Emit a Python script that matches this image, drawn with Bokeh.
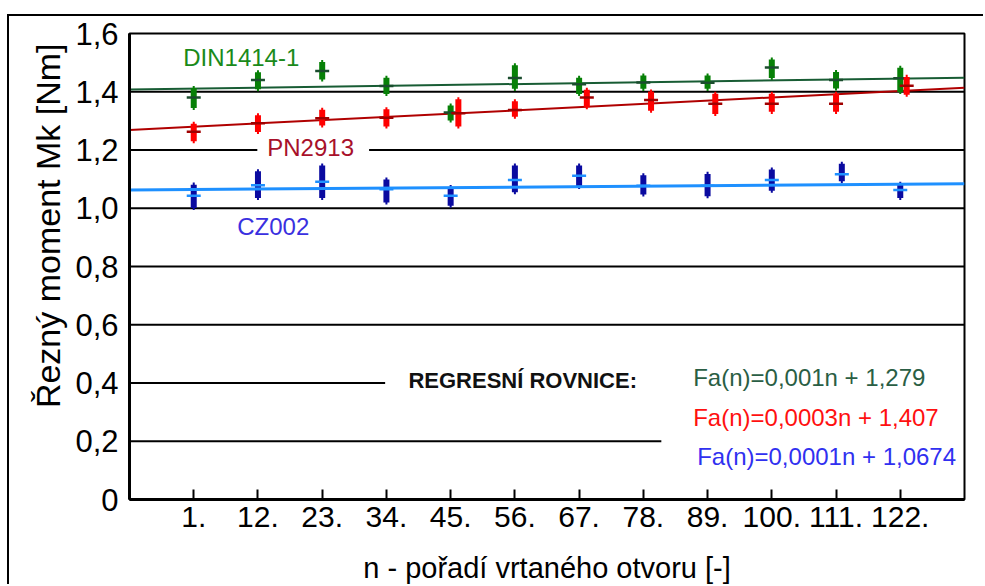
from bokeh.plotting import figure
from bokeh.models import Range1d, FixedTicker, CustomJSTickFormatter, Label, Title
from bokeh.embed import file_html
from bokeh.resources import INLINE

# ---- data ----
positions = [1, 2, 3, 4, 5, 6, 7, 8, 9, 10, 11, 12]
x_labels = ["1.", "12.", "23.", "34.", "45.", "56.", "67.", "78.", "89.", "100.", "111.", "122."]
y_ticks = [0, 0.2, 0.4, 0.6, 0.8, 1.0, 1.2, 1.4, 1.6]

din_hi = [1.420, 1.474, 1.509, 1.455, 1.360, 1.498, 1.455, 1.463, 1.463, 1.518, 1.475, 1.489]
din_lo = [1.337, 1.402, 1.435, 1.385, 1.294, 1.403, 1.385, 1.403, 1.403, 1.440, 1.404, 1.392]
din_mean = [1.380, 1.440, 1.471, 1.420, 1.329, 1.447, 1.426, 1.432, 1.431, 1.483, 1.440, 1.446]
din_shift = [0, 0, 0, 0, 0, 0, 0, 0, 0, 0, 0, 0]

pn_hi = [1.297, 1.326, 1.345, 1.347, 1.381, 1.374, 1.414, 1.408, 1.400, 1.400, 1.400, 1.458]
pn_lo = [1.223, 1.255, 1.277, 1.274, 1.274, 1.307, 1.340, 1.328, 1.317, 1.324, 1.324, 1.383]
pn_mean = [1.263, 1.292, 1.309, 1.311, 1.326, 1.337, 1.380, 1.372, 1.359, 1.359, 1.359, 1.421]
pn_shift = [0, 0, 0, 0, 0.12, 0, 0.12, 0.12, 0.12, 0, 0, 0.1]

cz_hi = [1.088, 1.134, 1.154, 1.106, 1.080, 1.154, 1.154, 1.120, 1.125, 1.140, 1.160, 1.091]
cz_lo = [0.994, 1.028, 1.028, 1.013, 1.002, 1.048, 1.066, 1.040, 1.034, 1.053, 1.086, 1.028]
cz_mean = [1.043, 1.079, 1.091, 1.065, 1.043, 1.097, 1.112, 1.077, 1.077, 1.097, 1.117, 1.063]
cz_shift = [0, 0, 0, 0, 0, 0, 0, 0, 0, 0, 0.09, 0]

reg_x = [0, 13]
din_reg = [1.408, 1.448]
pn_reg = [1.269, 1.414]
cz_reg = [1.0625, 1.084]

series_names = ["DIN1414-1", "PN2913", "CZ002"]
equations = ["Fa(n)=0,001n + 1,279", "Fa(n)=0,0003n + 1,407", "Fa(n)=0,0001n + 1,0674"]

FONT = "Liberation Sans"

p = figure(width=976, height=570, x_range=Range1d(0, 13), y_range=Range1d(0, 1.6),
           output_backend="svg", toolbar_location=None, title=None,
           min_border_left=120, min_border_right=21, min_border_top=17, min_border_bottom=87)
p.margin = (14, 0, 0, 7)
p.styles = {"border-left": "2px solid black", "border-top": "2px solid black"}
p.background_fill_color = "white"
p.border_fill_color = "white"
p.outline_line_color = "black"
p.outline_line_width = 2
p.xgrid.visible = False
p.ygrid.visible = False

# x axis
p.xaxis.ticker = FixedTicker(ticks=positions)
p.xaxis.major_label_overrides = {pos: lab for pos, lab in zip(positions, x_labels)}
p.xaxis.major_tick_in = 10
p.xaxis.major_tick_out = 0
p.xaxis.major_tick_line_width = 2
p.xaxis.major_tick_line_color = "black"
p.xaxis.minor_tick_line_color = None
p.xaxis.axis_line_width = 3
p.xaxis.axis_line_color = "black"
p.xaxis.major_label_text_font = FONT
p.xaxis.major_label_text_font_size = "30px"
p.xaxis.major_label_text_color = "black"
p.xaxis.major_label_standoff = 7
p.xaxis.axis_label = "n - pořadí vrtaného otvoru [-]"
p.xaxis.axis_label_text_font = FONT
p.xaxis.axis_label_text_font_size = "29px"
p.xaxis.axis_label_text_font_style = "normal"
p.xaxis.axis_label_text_color = "black"
p.xaxis.axis_label_standoff = 22

# y axis
p.yaxis.ticker = FixedTicker(ticks=y_ticks)
p.yaxis.formatter = CustomJSTickFormatter(
    code="return tick == 0 ? '0' : tick.toFixed(1).replace('.', ',');")
p.yaxis.major_tick_in = 0
p.yaxis.major_tick_out = 0
p.yaxis.minor_tick_line_color = None
p.yaxis.axis_line_width = 3
p.yaxis.axis_line_color = "black"
p.yaxis.major_label_text_font = FONT
p.yaxis.major_label_text_font_size = "31px"
p.yaxis.major_label_text_color = "black"
p.yaxis.major_label_standoff = 11

# y-axis title, aligned towards the top of the plot as in the reference
p.add_layout(Title(text="Řezný moment Mk [Nm]", align="right", text_font=FONT,
                   text_font_size="34px", text_font_style="normal",
                   text_color="black", standoff=12, offset=10), "left")

# horizontal grid lines (some interrupted by the annotations)
grid_levels = [0.2, 0.4, 0.6, 0.8, 1.0, 1.2, 1.2, 1.4]
p.segment(x0=[0, 0, 0, 0, 0, 0, 3.73, 0], x1=[8.28, 3.98, 13, 13, 13, 1.99, 13, 13],
          y0=grid_levels, y1=grid_levels, line_color="black", line_width=2)

# regression lines
p.line(reg_x, din_reg, line_color="#185c34", line_width=2)
p.line(reg_x, pn_reg, line_color="#b00000", line_width=2)

def draw_series(hi, lo, mean, shift, bar_color, tick_color):
    xs = [a + b for a, b in zip(positions, shift)]
    p.segment(x0=xs, x1=xs, y0=lo, y1=hi, line_color=bar_color, line_width=2)
    p.segment(x0=xs, x1=xs, y0=[v + 0.007 for v in lo], y1=[v - 0.007 for v in hi],
              line_color=bar_color, line_width=6)
    p.scatter(xs, mean, marker="dash", size=14, line_width=2.5, line_color=tick_color)

draw_series(din_hi, din_lo, din_mean, din_shift, "#078007", "#1b4d2e")
draw_series(pn_hi, pn_lo, pn_mean, pn_shift, "#ff0000", "#a00000")
draw_series(cz_hi, cz_lo, cz_mean, cz_shift, "#0a0aa0", "#1e90ff")
p.line(reg_x, cz_reg, line_color="#1e90ff", line_width=3)

# text annotations inside the plot
def label(x, y, text, size, color, bold=False):
    p.add_layout(Label(x=x, y=y, text=text, text_font=FONT, text_font_size=size,
                       text_color=color, text_align="left", text_baseline="middle",
                       text_font_style="bold" if bold else "normal"))

label(0.836, 1.516, series_names[0], "24px", "#1a8a1a")
label(2.145, 1.207, series_names[1], "24px", "#a8102a")
label(1.677, 0.939, series_names[2], "24px", "#3a30e0")
label(4.342, 0.407, "REGRESNÍ ROVNICE:", "22px", "#111111", bold=True)
label(8.776, 0.420, equations[0], "24px", "#2a5e44")
label(8.776, 0.283, equations[1], "24px", "#ff1010")
label(8.838, 0.149, equations[2], "24px", "#3030f0")

open("out.html", "w").write(file_html(p, INLINE))
